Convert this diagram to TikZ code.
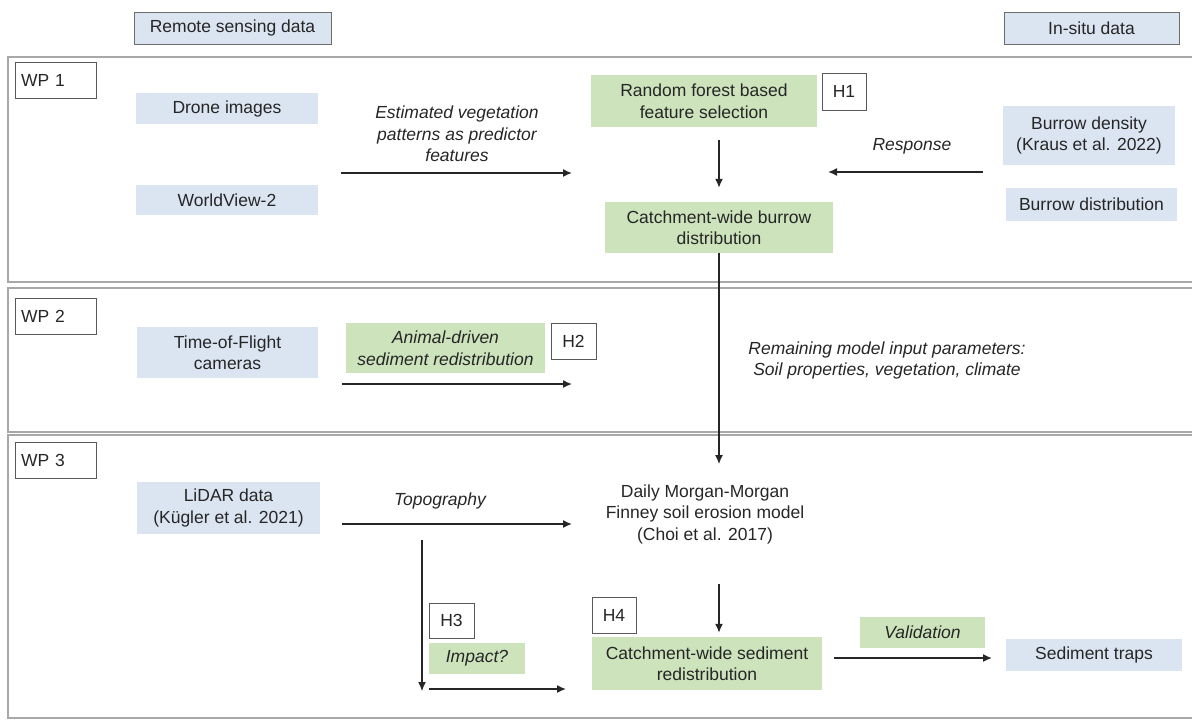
\documentclass[tikz,border=0pt]{standalone}
\usepackage{fontspec}
\setmainfont{Liberation Sans}
\usepackage{tikz}
\usetikzlibrary{arrows.meta}

\definecolor{rsblue}{RGB}{219,229,242}
\definecolor{resgreen}{RGB}{204,227,188}
\definecolor{panelgray}{RGB}{168,168,168}
\definecolor{txtgray}{RGB}{38,38,38}

\tikzset{
  base/.style={inner sep=0pt, align=center, text=txtgray,
    font=\fontsize{17.5}{21.5}\selectfont},
  datbox/.style={base, fill=rsblue},
  srcbox/.style={base, fill=rsblue, draw=gray!85!black, line width=1pt},
  resbox/.style={base, fill=resgreen},
  hypbox/.style={base, draw=gray!70!black, fill=white, line width=0.8pt},
  wpbox/.style={base, draw=gray!70!black, line width=0.8pt, align=left,
    text width=69pt, inner xsep=6pt, minimum width=81pt, minimum height=36pt},
  lbl/.style={base, font=\fontsize{17.5}{21.5}\selectfont\itshape},
  panel/.style={draw=panelgray, line width=2pt},
  flow/.style={-{Latex[length=9pt, width=8pt]}, line width=1.5pt, black!85},
}

\begin{document}
\begin{tikzpicture}[x=1pt, y=-1pt]
        \useasboundingbox (0, 0) rectangle (1192, 720);

        \draw[panel] (1194, 57) -- (8, 57) -- (8, 282) -- (1194, 282);
        \draw[panel] (1194, 288) -- (8, 288) -- (8, 432) -- (1194, 432);
        \draw[panel] (1194, 435) -- (8, 435) -- (8, 718) -- (1194, 718);

        \node[srcbox, minimum width=197pt, minimum height=32pt] (rsdata) at (232.5, 28) {Remote sensing data};
        \node[srcbox, minimum width=175pt, minimum height=32pt] (insitu) at (1091.5, 28) {In-situ data};

        \node[wpbox] (wp1) at (55.5, 80) {WP 1};
        \node[wpbox] (wp2) at (55.5, 316) {WP 2};
        \node[wpbox] (wp3) at (55.5, 460) {WP 3};

        \node[datbox, minimum width=182pt, minimum height=31pt] (drone) at (227, 108.5) {Drone images};
        \node[datbox, minimum width=182pt, minimum height=30pt] (wv) at (227, 200) {WorldView-2};
        \node[resbox, minimum width=226pt, minimum height=52pt] (rf) at (704, 101) {Random forest based\\feature selection};
        \node[hypbox, minimum width=44pt, minimum height=37pt] (h1) at (844, 91.5) {H1};
        \node[resbox, minimum width=228pt, minimum height=51pt] (burrow) at (719, 227.5) {Catchment-wide burrow\\distribution};
        \node[datbox, minimum width=172pt, minimum height=59pt] (bdens) at (1089, 135.5) {Burrow density\\(Kraus et al. 2022)};
        \node[datbox, minimum width=171pt, minimum height=33pt] (bdist) at (1091.5, 204.5) {Burrow distribution};
        \node[lbl] (veg) at (457, 134) {Estimated vegetation\\patterns as predictor\\features};
        \node[lbl] (resp) at (912, 146) {Response};

        \node[datbox, minimum width=181pt, minimum height=51pt] (tof) at (227.5, 352.5) {Time-of-Flight\\cameras};
        \node[resbox, minimum width=199pt, minimum height=50pt, font=\fontsize{17.5}{21.5}\selectfont\itshape] (animal) at (445.5, 348) {Animal-driven\\sediment redistribution};
        \node[hypbox, minimum width=45pt, minimum height=36pt] (h2) at (573.5, 341) {H2};
        \node[lbl] (remain) at (887, 360.5) {Remaining model input parameters:\\Soil properties, vegetation, climate};

        \node[datbox, minimum width=183pt, minimum height=52pt] (lidar) at (228.5, 508) {LiDAR data\\(Kügler et al. 2021)};
        \node[lbl] (topo) at (440, 501) {Topography};
        \node[base] (mmf) at (705, 514) {Daily Morgan-Morgan\\Finney soil erosion model\\(Choi et al. 2017)};
        \node[hypbox, minimum width=45pt, minimum height=35pt] (h3) at (451.5, 620.5) {H3};
        \node[resbox, minimum width=96pt, minimum height=31pt, font=\fontsize{17.5}{21.5}\selectfont\itshape] (impact) at (477, 658.5) {Impact?};
        \node[hypbox, minimum width=44pt, minimum height=36pt] (h4) at (614, 615) {H4};
        \node[resbox, minimum width=230pt, minimum height=53pt] (sed) at (707, 663.5) {Catchment-wide sediment\\redistribution};
        \node[resbox, minimum width=125pt, minimum height=31pt, font=\fontsize{17.5}{21.5}\selectfont\itshape] (valid) at (922.5, 632.5) {Validation};
        \node[datbox, minimum width=176pt, minimum height=32pt] (traps) at (1094, 655) {Sediment traps};

        \coordinate (vegS) at (341, 173);
        \coordinate (vegE) at (572, 173);
        \coordinate (respS) at (983, 172);
        \coordinate (respE) at (828, 172);
        \coordinate (anS) at (342, 384);
        \coordinate (anE) at (572, 384);
        \coordinate (topoS) at (342, 524);
        \coordinate (topoE) at (572, 524);
        \coordinate (impT) at (422, 540);
        \coordinate (impB) at (422, 691);
        \coordinate (impS) at (429, 689);
        \coordinate (impE) at (566, 689);
        \coordinate (valS) at (834, 658);
        \coordinate (valE) at (992, 658);

        \draw[flow] (vegS) to (vegE);
        \draw[flow] (respS) to (respE);
        \draw[flow, shorten <=13pt, shorten >=14pt] (burrow.north |- rf.south) to (burrow.north);
        \draw[flow, shorten >=20pt] (burrow.south) to (burrow.south |- mmf.north);
        \draw[flow] (anS) to (anE);
        \draw[flow] (topoS) to (topoE);
        \draw[flow, line width=1.1pt] (impT) to (impB);
        \draw[flow] (impS) to (impE);
        \draw[flow, shorten <=40pt, shorten >=4pt] (burrow.south |- mmf.south) to (burrow.south |- sed.north);
        \draw[flow] (valS) to (valE);
      \end{tikzpicture}
\end{document}
